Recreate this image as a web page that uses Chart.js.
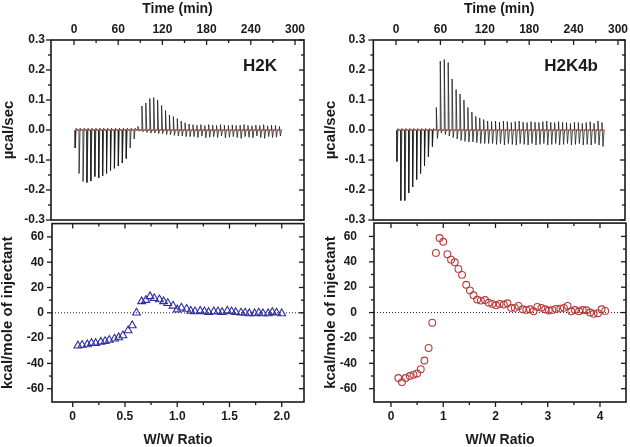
<!DOCTYPE html>
<html>
<head>
<meta charset="utf-8">
<script src="https://cdn.jsdelivr.net/npm/chart.js@4.4.0/dist/chart.umd.min.js"></script>
<style>
html, body { margin: 0; padding: 0; background: #fff; overflow: hidden; width: 630px; height: 447px; }
canvas { position: absolute; }
</style>
</head>
<body>
<canvas id="lt" width="315" height="230" style="left:0;top:0"></canvas>
<canvas id="lb" width="315" height="229" style="left:0;top:218px"></canvas>
<canvas id="rt" width="315" height="230" style="left:320px;top:0"></canvas>
<canvas id="rb" width="315" height="229" style="left:320px;top:218px"></canvas>
<script>
// --- Tick labels ---
const timeTicks = [0, 60, 120, 180, 240, 300];
const powerTicks = [-0.3, -0.2, -0.1, 0, 0.1, 0.2, 0.3];
const heatTicks = [-60, -40, -20, 0, 20, 40, 60];
const ratioTicksH2K = [0, 0.5, 1, 1.5, 2];
const ratioTicksH2K4b = [0, 1, 2, 3, 4];

// --- H2K raw injections (time, peak height, opposite excursion) ---
const h2kTimes = [1.4, 6.7, 12.1, 17.4, 22.7, 28.1, 33.4, 38.7, 44.0, 49.4, 54.7, 60.0, 65.4, 70.7, 76.0, 81.4,
  86.7, 92.0, 97.3, 102.7, 108.0, 113.3, 118.7, 124.0, 129.3, 134.7, 140.0, 145.3, 150.6, 156.0,
  161.3, 166.6, 172.0, 177.3, 182.6, 188.0, 193.3, 198.6, 203.9, 209.3, 214.6, 219.9, 225.3, 230.6,
  235.9, 241.3, 246.6, 251.9, 257.2, 262.6, 267.9, 273.2, 278.6];
const h2kPeaks = [-0.06, -0.145, -0.172, -0.175, -0.17, -0.155, -0.16, -0.153, -0.145, -0.135, -0.128, -0.12, -0.11, -0.095, -0.06, -0.03,
  0.012, 0.08, 0.09, 0.105, 0.108, 0.10, 0.082, 0.065, 0.05, 0.045, 0.038, 0.03, 0.024, 0.02,
  0.018, 0.016, 0.018, 0.015, 0.018, 0.016, 0.015, 0.018, 0.016, 0.015, 0.017, 0.015, 0.016, 0.018,
  0.015, 0.014, 0.016, 0.015, 0.018, 0.014, 0.016, 0.015, 0.012];
const h2kDips = [0.006, 0.006, 0.006, 0.006, 0.006, 0.006, 0.006, 0.006, 0.006, 0.006, 0.006, 0.006, 0.006, 0.006, 0.006, 0.006,
  -0.004, -0.006, -0.008, -0.01, -0.01, -0.012, -0.012, -0.015, -0.015, -0.018, -0.02, -0.02, -0.022, -0.022,
  -0.022, -0.025, -0.02, -0.026, -0.024, -0.022, -0.025, -0.02, -0.026, -0.024, -0.022, -0.025, -0.028, -0.022,
  -0.024, -0.026, -0.02, -0.025, -0.028, -0.022, -0.025, -0.024, -0.02];

// --- H2K integrated heats ---
const h2kRatio = [0.05, 0.09, 0.14, 0.18, 0.22, 0.27, 0.31, 0.35, 0.40, 0.44, 0.48, 0.53, 0.57, 0.61, 0.66, 0.70,
  0.74, 0.78, 0.83, 0.87, 0.91, 0.96, 1.00, 1.04, 1.09, 1.13, 1.17, 1.22, 1.26, 1.30, 1.35, 1.39,
  1.43, 1.48, 1.52, 1.56, 1.61, 1.65, 1.69, 1.74, 1.78, 1.82, 1.87, 1.91, 1.95, 2.00];
const h2kHeat = [-26, -25.5, -25, -24, -24, -23, -22.5, -21.5, -20.5, -19.5, -18, -14, -10, 0, 9, 10,
  13, 11.5, 10.5, 9, 7.5, 5.5, 2.5, 4, 3, 1.5, 1, 1.5, 1, 0.5, 1, 1,
  0.5, 1.5, 1, 0.5, 0, 0, -0.5, -0.5, 0, -0.5, -0.5, 0.5, 0, -0.5];

// --- H2K4b raw injections ---
const h2k4bTimes = [1.0, 6.3, 11.7, 17.0, 22.3, 27.7, 33.0, 38.3, 43.6, 49.0, 54.3, 59.6, 65.0, 70.3, 75.6, 81.0,
  86.3, 91.6, 96.9, 102.3, 107.6, 112.9, 118.3, 123.6, 128.9, 134.3, 139.6, 144.9, 150.2, 155.6,
  160.9, 166.2, 171.6, 176.9, 182.2, 187.6, 192.9, 198.2, 203.5, 208.9, 214.2, 219.5, 224.9, 230.2,
  235.5, 240.9, 246.2, 251.5, 256.8, 262.2, 267.5, 272.8, 278.2];
const h2k4bPeaks = [-0.105, -0.235, -0.235, -0.21, -0.19, -0.165, -0.145, -0.12, -0.09, -0.055,
  0.075, 0.23, 0.235, 0.225, 0.17, 0.135, 0.12, 0.10, 0.075, 0.06, 0.045, 0.04, 0.035, 0.03,
  0.028, 0.03, 0.026, 0.03, 0.028, 0.025, 0.028, 0.03, 0.026, 0.025, 0.028, 0.026, 0.025, 0.028,
  0.03, 0.026, 0.025, 0.028, 0.026, 0.025, 0.022, 0.026, 0.025, 0.022, 0.025, 0.028, 0.022, 0.03, 0.025];
const h2k4bDips = [0.005, 0.005, 0.005, 0.005, 0.005, 0.005, 0.005, 0.005, 0.005, 0.005,
  -0.028, -0.01, -0.015, -0.02, -0.025, -0.03, -0.035, -0.038, -0.04, -0.04, -0.042, -0.045, -0.045, -0.045,
  -0.045, -0.048, -0.045, -0.05, -0.045, -0.048, -0.05, -0.045, -0.048, -0.05, -0.045, -0.05, -0.048, -0.045,
  -0.05, -0.048, -0.045, -0.05, -0.048, -0.045, -0.05, -0.048, -0.045, -0.05, -0.048, -0.05, -0.045, -0.05, -0.055];

// --- H2K4b integrated heats ---
const h2k4bRatio = [0.14, 0.21, 0.28, 0.36, 0.43, 0.50, 0.57, 0.64, 0.72, 0.79, 0.86, 0.93, 1.00, 1.08,
  1.15, 1.22, 1.29, 1.36, 1.44, 1.51, 1.58, 1.65, 1.72, 1.80, 1.87, 1.94, 2.01, 2.08, 2.16, 2.23,
  2.30, 2.37, 2.44, 2.52, 2.59, 2.66, 2.73, 2.80, 2.88, 2.95, 3.02, 3.09, 3.16, 3.24, 3.31, 3.38,
  3.45, 3.52, 3.60, 3.67, 3.74, 3.81, 3.88, 3.96, 4.03, 4.10];
const h2k4bHeat = [-51.6, -54.8, -51.6, -50, -49, -48, -44.6, -37.8, -27.9, -8, 47, 58.7, 55.8, 46,
  41.7, 39.6, 34.4, 29.7, 21.9, 17.5, 13.6, 10.2, 9.4, 9.9, 7.8, 6.8, 5.7, 6.8, 6.3, 7.3,
  3.7, 3.7, 5.2, 2.6, 2.1, 2.6, 1.0, 4.4, 3.7, 2.6, 1.6, 2.1, 2.9, 3.1, 3.7, 5.2,
  1.0, 2.0, 1.0, 2.0, 1.8, 0, -1, -0.5, 2.6, 1.3];

const INK = '#1a1a1a';
const FAMILY = '"Liberation Sans", Arial, sans-serif';

function mids(t) { return t.slice(1).map((v, i) => (v + t[i]) / 2); }

// each injection: sharp stroke to the peak, quick swing the other way, back to baseline
function buildTrace(times, peaks, dips) {
    const pts = [];
    times.forEach((t, i) => {
        pts.push({ x: t, y: 0 }, { x: t + 0.2, y: peaks[i] }, { x: t + 1.6, y: dips[i] }, { x: t + 3, y: 0 });
    });
    return pts;
}

// --- Frame, Origin-style tick marks, zero line and panel label ---
const framePlugin = {
    id: 'frame',
    beforeDatasetsDraw(chart, args, o) {
        if (!o.zeroLine) return;
        const { ctx, chartArea: a } = chart;
        const y0 = chart.scales.y.getPixelForValue(0);
        ctx.save();
        ctx.strokeStyle = '#222';
        ctx.lineWidth = 1;
        ctx.setLineDash([1, 2]);
        ctx.beginPath(); ctx.moveTo(a.left, y0); ctx.lineTo(a.right, y0); ctx.stroke();
        ctx.restore();
    },
    afterDraw(chart, args, o) {
        if (!o.xEdges) return;
        const { ctx, chartArea: a, scales: { x, y } } = chart;
        ctx.save();
        ctx.strokeStyle = INK;
        ctx.lineWidth = 1.6;
        ctx.strokeRect(a.left, a.top, a.right - a.left, a.bottom - a.top);
        ctx.lineWidth = 1.3;
        const seg = (x1, y1, x2, y2) => { ctx.beginPath(); ctx.moveTo(x1, y1); ctx.lineTo(x2, y2); ctx.stroke(); };
        const xMarks = (vals, len) => vals.forEach(v => {
            const px = x.getPixelForValue(v);
            o.xEdges.forEach(e => seg(px, a[e], px, a[e] + len));
        });
        const yMarks = (vals, len) => vals.forEach(v => {
            const py = y.getPixelForValue(v);
            ['left', 'right'].forEach(e => seg(a[e] - len, py, a[e], py));
        });
        xMarks(o.xMajor, 5); xMarks(mids(o.xMajor), 3);
        yMarks(o.yMajor, 5); yMarks(mids(o.yMajor), 3);
        if (o.label) {
            ctx.fillStyle = INK;
            ctx.font = 'bold 17px ' + FAMILY;
            ctx.textAlign = 'right';
            ctx.textBaseline = 'middle';
            ctx.fillText(o.label, a.right - 27, a.top + 26);
        }
        ctx.restore();
    }
};
Chart.register(framePlugin);

function axis(o) {
    return {
        type: 'linear', position: o.position, min: o.min, max: o.max,
        afterBuildTicks: s => { s.ticks = o.ticks.map(v => ({ value: v })); },
        afterFit: s => {
            s[o.dim] = o.size;
            s.paddingTop = 0; s.paddingBottom = 0; s.paddingLeft = 0; s.paddingRight = 0;
        },
        grid: { display: false, drawTicks: false },
        border: { display: false },
        ticks: {
            color: INK, padding: o.pad, autoSkip: false, maxRotation: 0, callback: o.fmt,
            font: { family: FAMILY, size: 12, weight: 'bold', lineHeight: 1.2 }
        },
        title: {
            display: true, text: o.title, color: INK, padding: o.tpad,
            font: { family: FAMILY, size: o.tsize, weight: 'bold', lineHeight: 1 }
        }
    };
}

function thermogram(id, times, peaks, dips, o) {
    return new Chart(document.getElementById(id), {
        type: 'scatter',
        data: {
            datasets: [
                {
                    data: [{ x: times[0], y: 0 }, { x: times[times.length - 1] + 4, y: 0 }],
                    showLine: true, borderColor: '#b8484a', borderWidth: 1, pointRadius: 0
                },
                {
                    data: buildTrace(times, peaks, dips),
                    showLine: true, borderColor: 'rgba(25,25,25,0.85)', borderWidth: 0.9, pointRadius: 0
                }
            ]
        },
        options: {
            responsive: false, animation: false, events: [],
            layout: { padding: { left: 0, top: 0, right: o.right, bottom: 10 } },
            plugins: {
                legend: { display: false }, tooltip: { enabled: false },
                frame: { xEdges: ['top'], xMajor: timeTicks, yMajor: powerTicks, label: o.label }
            },
            scales: {
                x: axis({ position: 'top', min: o.xmin, max: o.xmax, ticks: timeTicks, dim: 'height', size: 40, pad: 3,
                    fmt: v => String(v), title: 'Time (min)', tsize: 14, tpad: { top: 2, bottom: 0 } }),
                y: axis({ position: 'left', min: -0.3, max: 0.3, ticks: powerTicks, dim: 'width', size: o.yw, pad: o.ypad,
                    fmt: v => v.toFixed(1), title: 'µcal/sec', tsize: 15, tpad: { top: o.tp, bottom: 0 } })
            }
        }
    });
}

function isotherm(id, ratio, heat, ratioTicks, o) {
    return new Chart(document.getElementById(id), {
        type: 'scatter',
        data: {
            datasets: [{
                data: ratio.map((r, i) => ({ x: r, y: heat[i] })),
                pointStyle: o.style, pointRadius: o.r, borderWidth: 1.1,
                borderColor: o.color, backgroundColor: 'rgba(255,255,255,0)'
            }]
        },
        options: {
            responsive: false, animation: false, events: [],
            layout: { padding: { left: 0, top: 2, right: o.right, bottom: 0 } },
            plugins: {
                legend: { display: false }, tooltip: { enabled: false },
                frame: { xEdges: ['top', 'bottom'], xMajor: ratioTicks, yMajor: heatTicks, zeroLine: true }
            },
            scales: {
                x: axis({ position: 'bottom', min: o.xmin, max: o.xmax, ticks: ratioTicks, dim: 'height', size: 45, pad: 7.5,
                    fmt: o.fmt, title: 'W/W Ratio', tsize: 14, tpad: { top: 0, bottom: 0 } }),
                y: axis({ position: 'left', min: -70.5, max: 70.5, ticks: heatTicks, dim: 'width', size: o.yw, pad: o.ypad,
                    fmt: v => String(v), title: 'kcal/mole of injectant', tsize: 15, tpad: { top: o.tp, bottom: 0 } })
            }
        }
    });
}

thermogram('lt', h2kTimes, h2kPeaks, h2kDips,
    { xmin: -31.2, xmax: 312.2, right: 11, yw: 51, ypad: 6, tp: 1.2, label: 'H2K' });
isotherm('lb', h2kRatio, h2kHeat, ratioTicksH2K,
    { xmin: -0.198, xmax: 2.213, right: 11, yw: 52, ypad: 8, tp: 0.8, style: 'triangle', r: 4.5, color: '#2e2e9e',
      fmt: v => v === 0 ? '0' : v.toFixed(1) });
thermogram('rt', h2k4bTimes, h2k4bPeaks, h2k4bDips,
    { xmin: -30.7, xmax: 309.5, right: 10, yw: 53.3, ypad: 8, tp: 3, label: 'H2K4b' });
isotherm('rb', h2k4bRatio, h2k4bHeat, ratioTicksH2K4b,
    { xmin: -0.325, xmax: 4.498, right: 9, yw: 54, ypad: 17, tp: 3.3, style: 'circle', r: 3.4, color: '#b53a3a',
      fmt: v => String(v) });
</script>
</body>
</html>
